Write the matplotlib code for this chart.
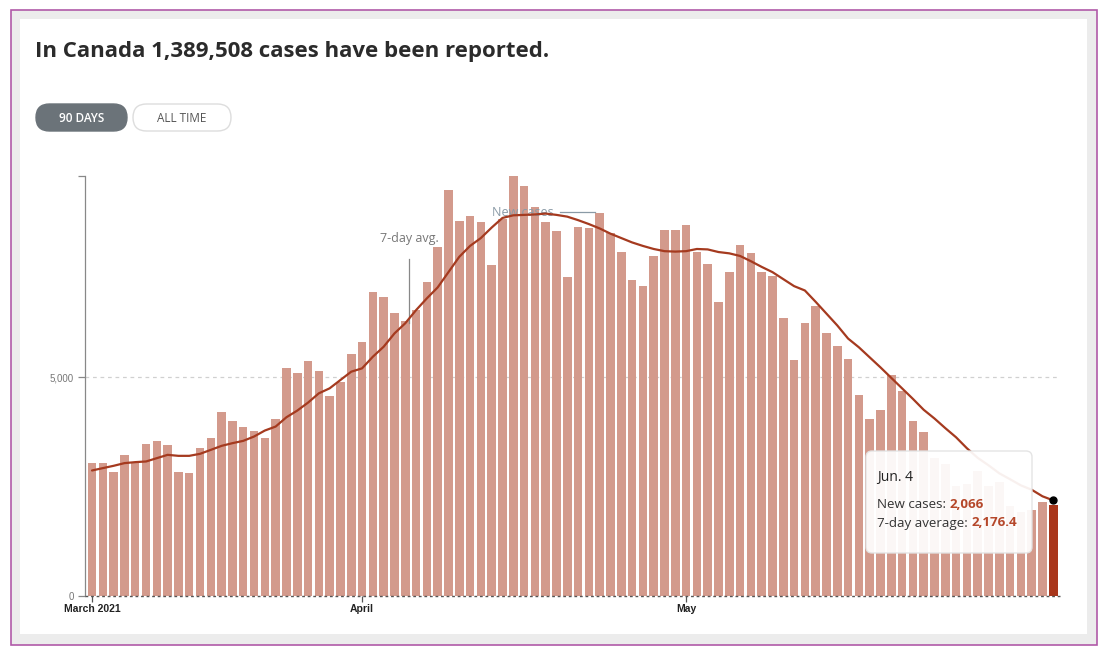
import matplotlib
matplotlib.use("Agg")
import matplotlib.pyplot as plt
from matplotlib.patches import FancyBboxPatch, Rectangle
import numpy as np

# ---------------- data ----------------
month_ticks = [0, 25, 55]                 # day index of Mar 7, Apr 1, May 1
month_labels = ["March 2021", "April", "May"]

new_cases = [
    3025, 3039, 2819, 3215, 3062, 3460, 3542, 3444, 2833, 2810,
    3382, 3597, 4206, 4000, 3863, 3764, 3597, 4039, 5199, 5098,
    5373, 5130, 4572, 4878, 5519, 5808, 6945, 6838, 6458, 6289,
    6533, 7167, 7982, 9272, 8570, 8691, 8554, 7563, 8616, 9600,
    9371, 8898, 8554, 8341, 7295, 8444, 8403, 8746, 8288, 7854,
    7220, 7089, 7776, 8364, 8357, 8478, 7854, 7586, 6709, 7410,
    8021, 7844, 7410, 7318, 6343, 5389, 6229, 6632, 6014, 5716,
    5405, 4588, 4032, 4245, 5046, 4687, 4000, 3735, 3140, 3000,
    2500, 2550, 2850, 2500, 2600, 2050, 1900, 1950, 2150, 2066,
]

avg7 = [
    2861, 2915, 2968, 3029, 3052, 3067, 3143, 3219, 3196, 3196,
    3242, 3333, 3425, 3486, 3539, 3638, 3775, 3866, 4079, 4231,
    4414, 4627, 4741, 4932, 5122, 5198, 5464, 5693, 5997, 6230,
    6530, 6800, 7050, 7400, 7750, 8000, 8180, 8420, 8640, 8700,
    8710, 8720, 8740, 8710, 8670, 8590, 8500, 8400, 8280, 8180,
    8080, 8000, 7930, 7880, 7870, 7880, 7930, 7920, 7860, 7830,
    7770, 7650, 7520, 7400, 7240, 7080, 6980, 6720, 6450, 6180,
    5880, 5680, 5450, 5220, 4980, 4740, 4500, 4250, 4050, 3830,
    3620, 3370, 3150, 2980, 2796, 2660, 2520, 2420, 2270, 2176.4,
]

title = "In Canada 1,389,508 cases have been reported."
tip_date = "Jun. 4"
tip_new = "2,066"
tip_avg = "2,176.4"

# ---------------- styling ----------------
W, H = 1107, 655
BAR = "#d39a8c"
BAR_LAST = "#a9361b"
LINE = "#a53a1f"
SANS = ["Open Sans", "DejaVu Sans"]
ARIAL = ["Liberation Sans", "DejaVu Sans"]

fig = plt.figure(figsize=(W / 100, H / 100), dpi=100)
fig.patch.set_facecolor("white")

# background/frame layer in pixel coordinates
bg = fig.add_axes([0, 0, 1, 1], zorder=0)
bg.set_xlim(0, W)
bg.set_ylim(H, 0)
bg.axis("off")
bg.add_patch(Rectangle((11, 10), 1086, 635, facecolor="#ececec",
                       edgecolor="#b05aa8", lw=1.2))
bg.add_patch(Rectangle((20, 19), 1067, 615, facecolor="white", edgecolor="none"))
bg.text(35, 51, title, fontsize=16, fontweight="bold", color="#2b2b2b",
        family=SANS, va="center", ha="left")
# buttons
bg.add_patch(FancyBboxPatch((36, 104), 91, 27,
                            boxstyle="round,pad=0,rounding_size=13.5",
                            facecolor="#6b7379", edgecolor="#6b7379", lw=1))
bg.text(81.5, 118, "90 DAYS", fontsize=8.5, color="white", fontweight="semibold",
        family=SANS, ha="center", va="center")
bg.add_patch(FancyBboxPatch((133, 104), 98, 27,
                            boxstyle="round,pad=0,rounding_size=13.5",
                            facecolor="white", edgecolor="#dddddd", lw=1))
bg.text(182, 118, "ALL TIME", fontsize=8.5, color="#555555",
        family=SANS, ha="center", va="center")

# ---------------- main chart ----------------
x0_px, x1_px, y0_px, y1_px = 85, 1060, 595.5, 176
ax = fig.add_axes([x0_px / W, 1 - y0_px / H, (x1_px - x0_px) / W, (y0_px - y1_px) / H],
                  zorder=1)
ax.patch.set_alpha(0)

n = len(new_cases)
idx = np.arange(n)
colors = [BAR] * (n - 1) + [BAR_LAST]
ax.bar(idx, new_cases, width=0.79, color=colors, zorder=2)
ax.plot(idx, avg7, color=LINE, lw=1.6, zorder=4, solid_capstyle="round")

ax.set_xlim(-0.65, 89.62)
ax.set_ylim(0, max(new_cases))

for s in ["top", "right", "bottom"]:
    ax.spines[s].set_visible(False)
ax.spines["left"].set_color("#888888")
ax.spines["left"].set_linewidth(0.9)

ax.set_yticks([0, 5000, max(new_cases)])
ax.set_yticklabels(["0", "5,000", ""], fontsize=7, color="#777777", family=ARIAL)
ax.tick_params(axis="y", length=5, width=0.9, color="#888888", pad=3)
ax.axhline(5000, color="#d0d0d0", lw=0.9, ls=(0, (3, 3)), zorder=1)
ax.axhline(0, color="#555555", lw=1.0, ls=(0, (2, 2)), zorder=3, clip_on=False)

ax.set_xticks(month_ticks)
ax.set_xticklabels(month_labels, fontsize=7.5, color="#222222", family=ARIAL,
                   fontweight="semibold")
ax.tick_params(axis="x", length=4, width=0.9, color="#555555", pad=2)

# annotations
ann_i = 29.35
ax.plot([ann_i, ann_i], [avg7[29], 7700], color="#888888", lw=0.9, zorder=3)
ax.text(ann_i, 8180, "7-day avg.", fontsize=9, color="#777777", family=SANS,
        ha="center", va="center", zorder=3)
peak_i = 47
ax.plot([43.3, peak_i - 0.4], [new_cases[peak_i] + 30] * 2, color="#8a9aa6",
        lw=0.9, zorder=3)
ax.text(42.7, new_cases[peak_i] + 30, "New cases", fontsize=9, color="#8a9aa6",
        family=SANS, ha="right", va="center", zorder=3)

# end point marker
ax.plot([idx[-1]], [avg7[-1]], "o", color="black", ms=5, zorder=6, clip_on=False)

# ---------------- tooltip layer ----------------
top = fig.add_axes([0, 0, 1, 1], zorder=2)
top.set_xlim(0, W)
top.set_ylim(H, 0)
top.axis("off")
top.add_patch(FancyBboxPatch((866 + 6, 451 + 6), 166 - 12, 102 - 12,
                             boxstyle="round,pad=6", facecolor="white", alpha=0.93,
                             edgecolor="#e2e2e2", lw=1))
top.text(877, 477, tip_date, fontsize=10, color="#222222", family=SANS,
         ha="left", va="center")
t1 = top.text(877, 504, "New cases: ", fontsize=9.6, color="#333333", family=SANS,
              ha="left", va="center")
t2 = top.text(877, 523, "7-day average: ", fontsize=9.6, color="#333333", family=SANS,
              ha="left", va="center")
fig.canvas.draw()
r = fig.canvas.get_renderer()
inv = top.transData.inverted()
e1 = t1.get_window_extent(r)
e2 = t2.get_window_extent(r)
x1 = inv.transform((e1.x1, 0))[0]
x2 = inv.transform((e2.x1, 0))[0]
top.text(x1, 504, tip_new, fontsize=9.6, color="#b5472a", fontweight="bold",
         family=SANS, ha="left", va="center")
top.text(x2, 523, tip_avg, fontsize=9.6, color="#b5472a", fontweight="bold",
         family=SANS, ha="left", va="center")

fig.savefig("out.png", dpi=100)
